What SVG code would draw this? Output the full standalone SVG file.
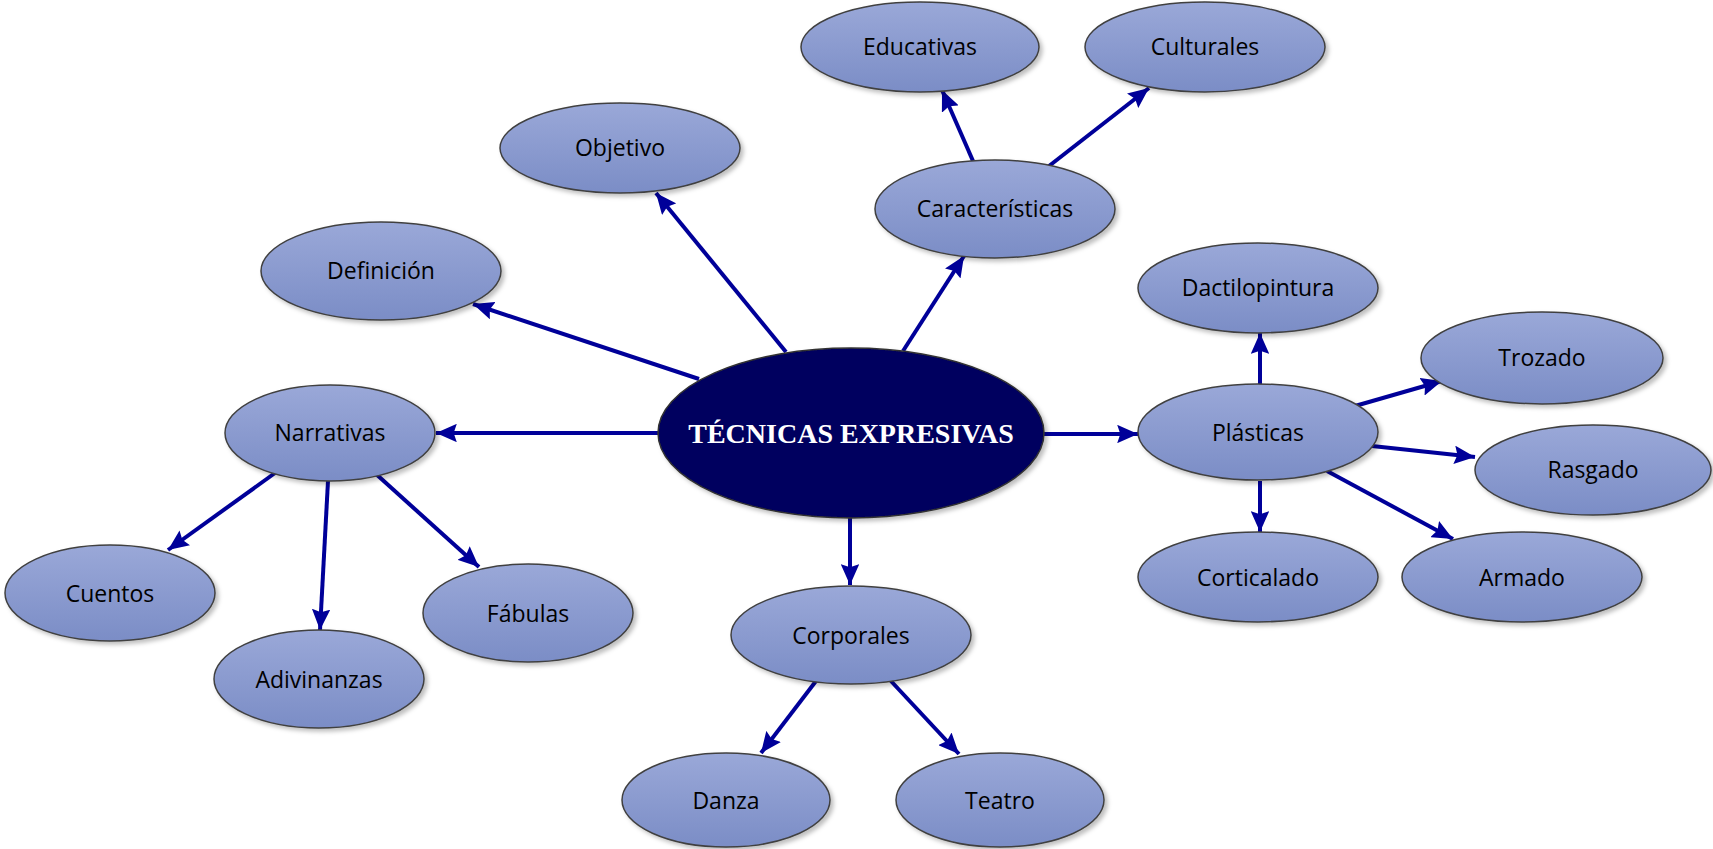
<svg xmlns="http://www.w3.org/2000/svg" width="1713" height="849" viewBox="0 0 1713 849">
<defs>
<linearGradient id="g" x1="0" y1="0" x2="0" y2="1">
<stop offset="0" stop-color="#9AA8D8"/>
<stop offset="1" stop-color="#7B8DC6"/>
</linearGradient>
<filter id="sh" x="-10%" y="-10%" width="125%" height="130%">
<feDropShadow dx="3" dy="3" stdDeviation="2" flood-color="#000" flood-opacity="0.25"/>
</filter>
<marker id="ah" viewBox="0 0 10 10" refX="10" refY="5" markerWidth="5.2" markerHeight="4.6" orient="auto" markerUnits="strokeWidth" preserveAspectRatio="none">
<path d="M0,0 L10,5 L0,10 L1.5,5 Z" fill="#000099"/>
</marker>
</defs>
<style>
.n ellipse{fill:url(#g);stroke:#404040;stroke-width:1.5;filter:url(#sh)}
.n text{font-family:"Open Sans","Noto Sans",sans-serif;font-size:23px;fill:#000;text-anchor:middle}
.c line{stroke:#000099;stroke-width:4;marker-end:url(#ah)}
</style>
<rect width="1713" height="849" fill="#fff"/>
<g class="c" id="connectors">
<line x1="699" y1="379" x2="473" y2="304"/>
<line x1="786" y1="352" x2="656" y2="193"/>
<line x1="903" y1="351" x2="964" y2="256"/>
<line x1="973" y1="161" x2="942" y2="90"/>
<line x1="1049" y1="166" x2="1149" y2="88"/>
<line x1="658" y1="433" x2="436" y2="433"/>
<line x1="1043" y1="434" x2="1138" y2="434"/>
<line x1="850" y1="518" x2="850" y2="585"/>
<line x1="275" y1="473" x2="168" y2="550"/>
<line x1="328" y1="481" x2="320" y2="630"/>
<line x1="376" y1="474" x2="479" y2="567"/>
<line x1="1260" y1="385" x2="1260" y2="333"/>
<line x1="1355" y1="406" x2="1442" y2="381"/>
<line x1="1372" y1="446" x2="1475" y2="457"/>
<line x1="1327" y1="471" x2="1453" y2="539"/>
<line x1="1260" y1="481" x2="1260" y2="532"/>
<line x1="816" y1="681" x2="761" y2="753"/>
<line x1="890" y1="680" x2="959" y2="754"/>
</g>
<g id="center">
<ellipse cx="851" cy="433" rx="193" ry="85" fill="#00005E" stroke="#333" stroke-width="1.5" filter="url(#sh)"/>
<text x="851" y="443" font-family="'Liberation Serif',serif" font-weight="bold" font-size="28" fill="#fff" text-anchor="middle">TÉCNICAS EXPRESIVAS</text>
</g>
<g class="n" id="educativas"><ellipse cx="920" cy="47" rx="119" ry="45"/><text x="920" y="55">Educativas</text></g>
<g class="n" id="culturales"><ellipse cx="1205" cy="47" rx="120" ry="45"/><text x="1205" y="55">Culturales</text></g>
<g class="n" id="objetivo"><ellipse cx="620" cy="148" rx="120" ry="45"/><text x="620" y="156">Objetivo</text></g>
<g class="n" id="caracteristicas"><ellipse cx="995" cy="209" rx="120" ry="49"/><text x="995" y="217">Características</text></g>
<g class="n" id="definicion"><ellipse cx="381" cy="271" rx="120" ry="49"/><text x="381" y="279">Definición</text></g>
<g class="n" id="dactilopintura"><ellipse cx="1258" cy="288" rx="120" ry="45"/><text x="1258" y="296">Dactilopintura</text></g>
<g class="n" id="trozado"><ellipse cx="1542" cy="358" rx="121" ry="46"/><text x="1542" y="366">Trozado</text></g>
<g class="n" id="narrativas"><ellipse cx="330" cy="433" rx="105" ry="48"/><text x="330" y="441">Narrativas</text></g>
<g class="n" id="plasticas"><ellipse cx="1258" cy="432" rx="120" ry="48"/><text x="1258" y="441">Plásticas</text></g>
<g class="n" id="rasgado"><ellipse cx="1593" cy="470" rx="118" ry="45"/><text x="1593" y="478">Rasgado</text></g>
<g class="n" id="corticalado"><ellipse cx="1258" cy="577" rx="120" ry="45"/><text x="1258" y="586">Corticalado</text></g>
<g class="n" id="armado"><ellipse cx="1522" cy="577" rx="120" ry="45"/><text x="1522" y="586">Armado</text></g>
<g class="n" id="cuentos"><ellipse cx="110" cy="593" rx="105" ry="48"/><text x="110" y="602">Cuentos</text></g>
<g class="n" id="fabulas"><ellipse cx="528" cy="613" rx="105" ry="49"/><text x="528" y="622">Fábulas</text></g>
<g class="n" id="adivinanzas"><ellipse cx="319" cy="679" rx="105" ry="49"/><text x="319" y="688">Adivinanzas</text></g>
<g class="n" id="corporales"><ellipse cx="851" cy="635" rx="120" ry="49"/><text x="851" y="644">Corporales</text></g>
<g class="n" id="danza"><ellipse cx="726" cy="800" rx="104" ry="47"/><text x="726" y="809">Danza</text></g>
<g class="n" id="teatro"><ellipse cx="1000" cy="800" rx="104" ry="47"/><text x="1000" y="809">Teatro</text></g>
</svg>
